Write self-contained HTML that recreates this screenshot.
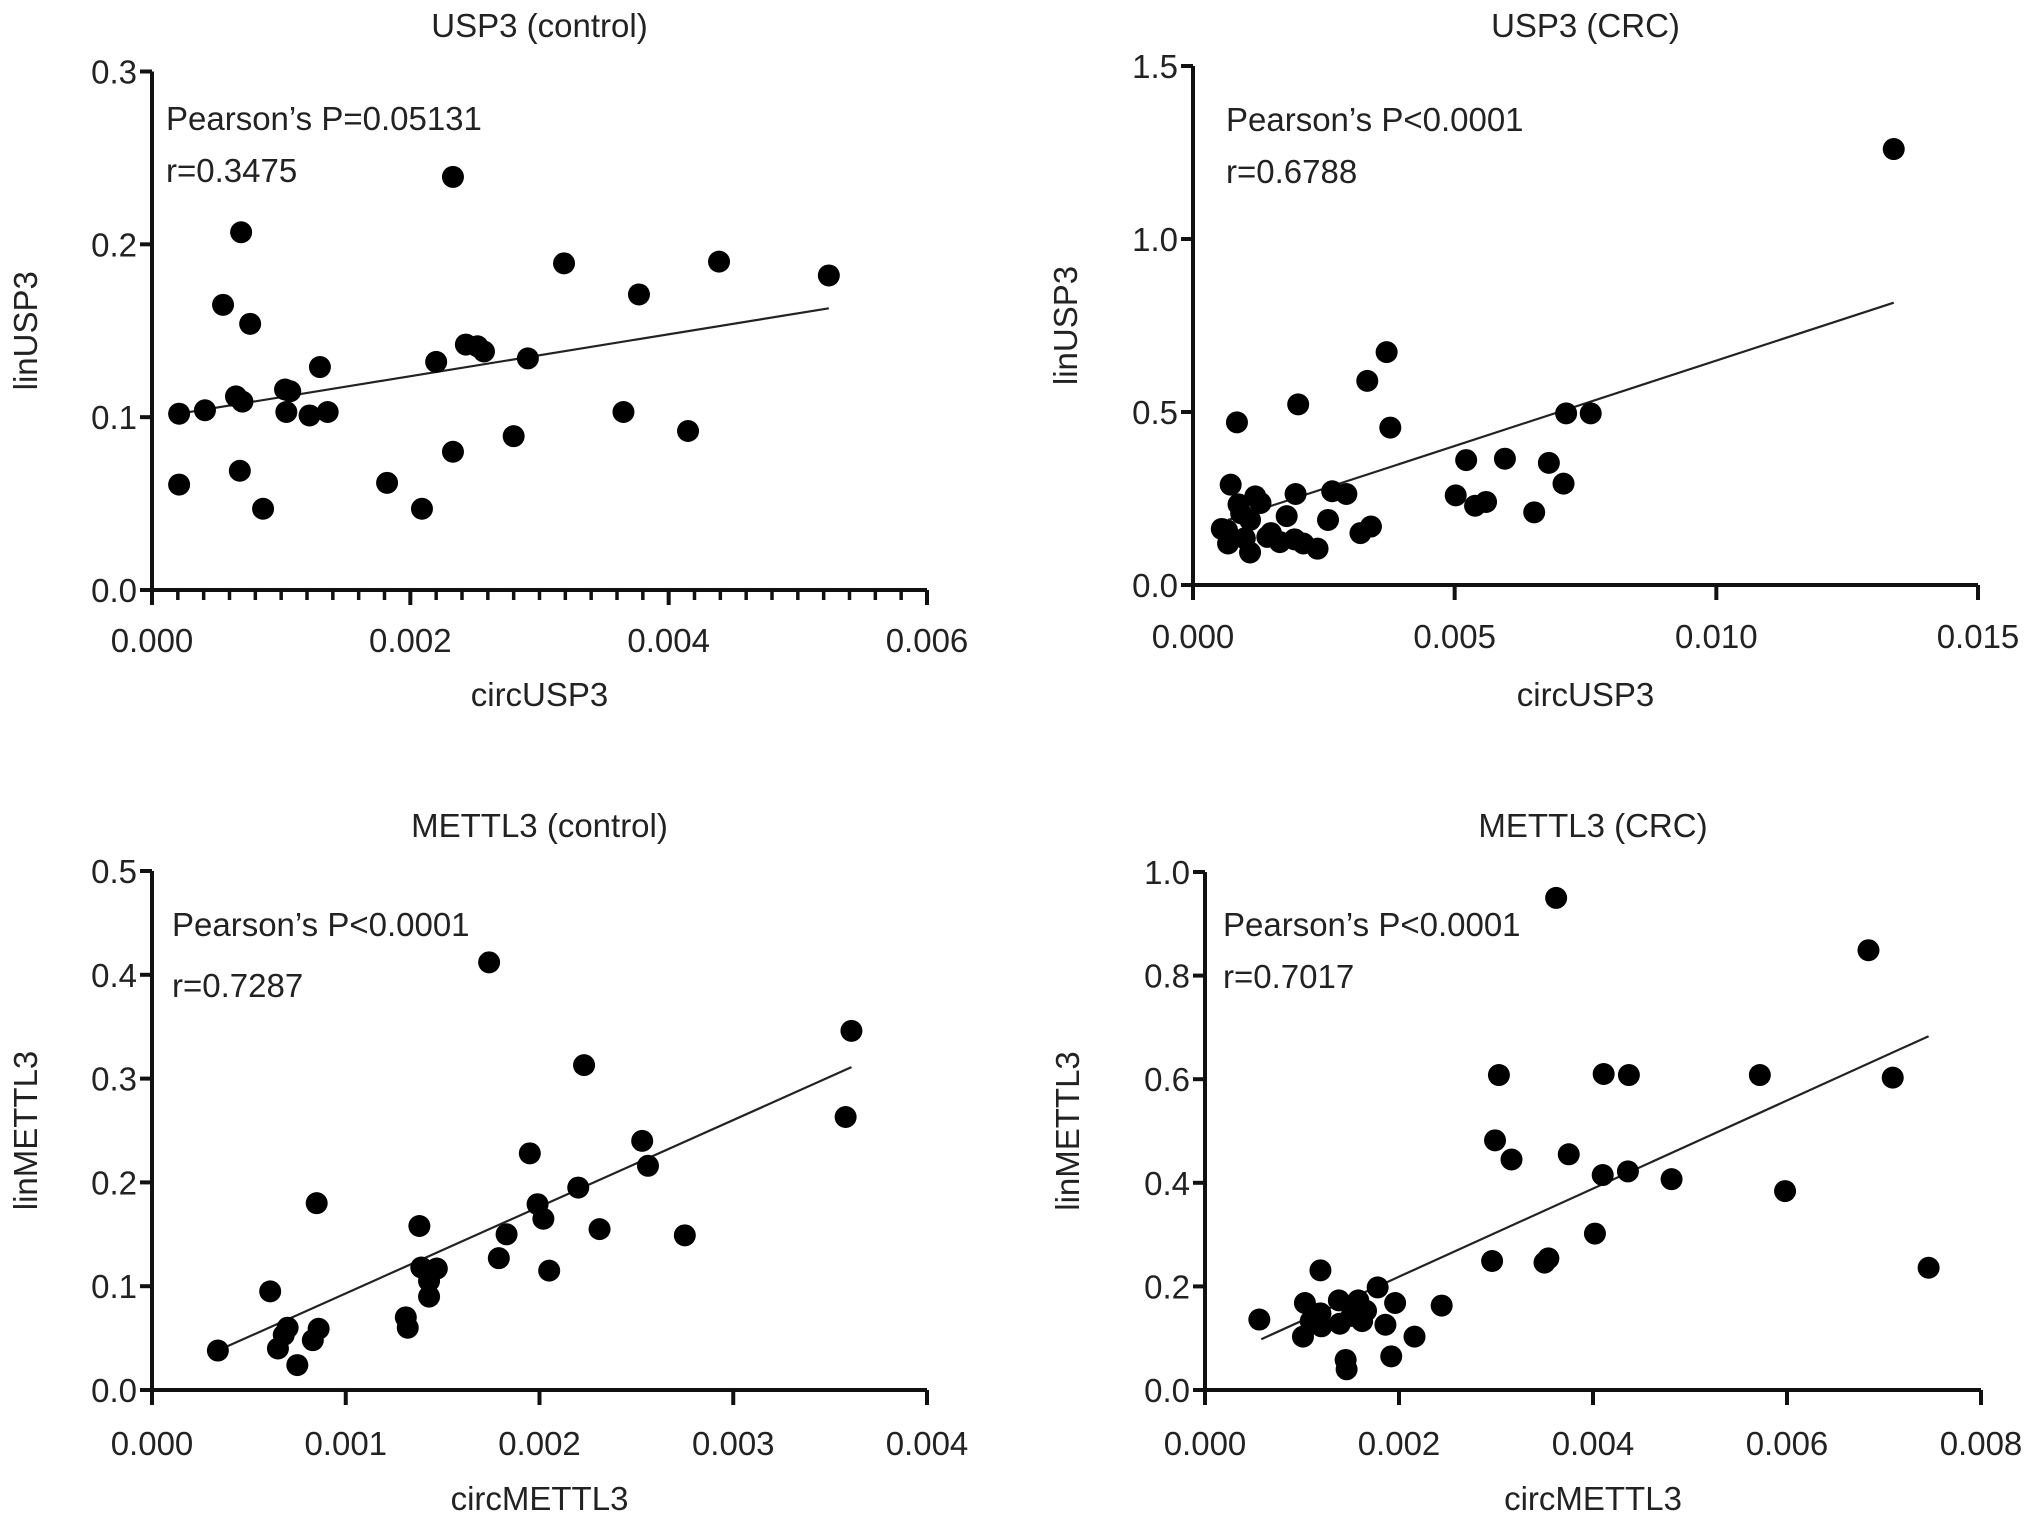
<!DOCTYPE html>
<html><head><meta charset="utf-8"><style>
html,body{margin:0;padding:0;background:#fff;}
svg{display:block;font-family:"Liberation Sans",Arial,sans-serif;}
</style></head><body>
<svg id="chart" width="2031" height="1520" viewBox="0 0 2031 1520"></svg>
<script>
// Panel A: USP3 control
const aX=[0.00021,0.00021,0.00041,0.00055,0.00069,0.00076,0.00065,0.0007,0.00068,0.00086,0.00103,0.00107,0.00104,0.00122,0.0013,0.00136,0.00182,0.00209,0.0022,0.00233,0.00233,0.00243,0.00252,0.00257,0.0028,0.00291,0.00319,0.00365,0.00377,0.00415,0.00439,0.00524];
const aY=[0.061,0.102,0.104,0.165,0.207,0.154,0.112,0.109,0.069,0.047,0.116,0.115,0.103,0.101,0.129,0.103,0.062,0.047,0.132,0.239,0.080,0.142,0.141,0.138,0.089,0.134,0.189,0.103,0.171,0.092,0.190,0.182];
const aFit=[[0.00021,0.102],[0.00524,0.163]];
const aXTicks=["0.000","0.002","0.004","0.006"];
const aYTicks=["0.0","0.1","0.2","0.3"];
// Panel B: USP3 CRC
const bX=[0.01339,0.0076,0.00713,0.00708,0.0068,0.00652,0.00596,0.0056,0.00539,0.00522,0.00502,0.00377,0.0037,0.00333,0.0034,0.0032,0.00293,0.00266,0.00258,0.00238,0.00201,0.00196,0.00194,0.00179,0.00166,0.00149,0.00129,0.00119,0.00109,0.00099,0.00092,0.00084,0.00087,0.00072,0.00065,0.00055,0.00067,0.00109,0.00142,0.00211];
const bY=[1.26,0.496,0.496,0.293,0.353,0.21,0.365,0.24,0.229,0.361,0.259,0.455,0.673,0.59,0.169,0.15,0.263,0.271,0.188,0.105,0.522,0.263,0.132,0.199,0.124,0.15,0.237,0.256,0.188,0.135,0.207,0.47,0.233,0.29,0.158,0.162,0.12,0.094,0.139,0.12];
const bFit=[[0.00067,0.188],[0.01339,0.816]];
const bXTicks=["0.000","0.005","0.010","0.015"];
const bYTicks=["0.0","0.5","1.0","1.5"];
// Panel C: METTL3 control
const cX=[0.00034,0.00061,0.00065,0.00068,0.0007,0.00075,0.00083,0.00086,0.00085,0.00131,0.00132,0.00138,0.00139,0.00143,0.00143,0.00147,0.00174,0.00179,0.00183,0.00195,0.00199,0.00202,0.00205,0.0022,0.00223,0.00231,0.00253,0.00256,0.00275,0.00358,0.00361];
const cY=[0.038,0.095,0.04,0.053,0.06,0.024,0.048,0.059,0.18,0.07,0.06,0.158,0.118,0.105,0.09,0.117,0.412,0.127,0.15,0.228,0.179,0.165,0.115,0.195,0.313,0.155,0.24,0.216,0.149,0.263,0.346];
const cFit=[[0.00034,0.038],[0.00361,0.311]];
const cXTicks=["0.000","0.001","0.002","0.003","0.004"];
const cYTicks=["0.0","0.1","0.2","0.3","0.4","0.5"];
// Panel D: METTL3 CRC
const dX=[0.00056,0.00119,0.00101,0.00103,0.00109,0.00119,0.0012,0.00138,0.00145,0.00146,0.00139,0.00158,0.00162,0.00151,0.00166,0.00178,0.00186,0.00192,0.00196,0.00216,0.00244,0.00296,0.00299,0.00303,0.00316,0.0035,0.00354,0.00362,0.00375,0.00402,0.0041,0.00411,0.00436,0.00437,0.00481,0.00572,0.00598,0.00684,0.00709,0.00746];
const dY=[0.136,0.231,0.103,0.168,0.133,0.148,0.123,0.173,0.058,0.04,0.128,0.173,0.133,0.143,0.153,0.198,0.126,0.065,0.168,0.103,0.163,0.249,0.482,0.608,0.445,0.246,0.254,0.95,0.455,0.302,0.415,0.61,0.422,0.608,0.407,0.608,0.384,0.849,0.603,0.236];
const dFit=[[0.00058,0.098],[0.00746,0.683]];
const dXTicks=["0.000","0.002","0.004","0.006","0.008"];
const dYTicks=["0.0","0.2","0.4","0.6","0.8","1.0"];

const NS="http://www.w3.org/2000/svg";
const svg=document.getElementById('chart');
function mk(tag,attrs,parent){const e=document.createElementNS(NS,tag);for(const k in attrs)e.setAttribute(k,attrs[k]);(parent||svg).appendChild(e);return e;}
function txt(s,attrs,parent){const e=mk('text',attrs,parent);e.textContent=s;return e;}

const panels=[
 {key:'usp3-control',X:aX,Y:aY,fit:aFit,xt:aXTicks,yt:aYTicks,L:152,R:927,T:71.5,B:590,title:'USP3 (control)',xl:'circUSP3',yl:'linUSP3',p:"Pearson’s P=0.05131",r:'r=0.3475',minor:30,tx:166,ty1:130,ty2:182,ylx:26,tly:26,xly:706,xtly:652},
 {key:'usp3-crc',X:bX,Y:bY,fit:bFit,xt:bXTicks,yt:bYTicks,L:1193,R:1978,T:66,B:585,title:'USP3 (CRC)',xl:'circUSP3',yl:'linUSP3',p:"Pearson’s P<0.0001",r:'r=0.6788',minor:0,tx:1226,ty1:131,ty2:183,ylx:1066,tly:26,xly:706,xtly:648},
 {key:'mettl3-control',X:cX,Y:cY,fit:cFit,xt:cXTicks,yt:cYTicks,L:152,R:927,T:871,B:1390,title:'METTL3 (control)',xl:'circMETTL3',yl:'linMETTL3',p:"Pearson’s P<0.0001",r:'r=0.7287',minor:0,tx:172,ty1:936,ty2:997,ylx:26,tly:826,xly:1510,xtly:1455},
 {key:'mettl3-crc',X:dX,Y:dY,fit:dFit,xt:dXTicks,yt:dYTicks,L:1205,R:1981,T:872,B:1390,title:'METTL3 (CRC)',xl:'circMETTL3',yl:'linMETTL3',p:"Pearson’s P<0.0001",r:'r=0.7017',minor:0,tx:1223,ty1:936,ty2:988,ylx:1068,tly:826,xly:1510,xtly:1455}
];

panels.forEach(p=>{
  const g=mk('g',{});
  
  
  const xmax=parseFloat(p.xt[p.xt.length-1]), ymax=parseFloat(p.yt[p.yt.length-1]);
  const sx=v=>p.L+(v/xmax)*(p.R-p.L);
  const sy=v=>p.B-(v/ymax)*(p.B-p.T);
  const t=txt(p.title,{x:(p.L+p.R)/2,y:p.tly+11,'text-anchor':'middle','font-size':33,fill:'#222'},g);
  
  
  const ya=mk('line',{x1:p.L,y1:p.T,x2:p.L,y2:p.B+14,stroke:'#111','stroke-width':4},g);
  
  
  const xa=mk('line',{x1:p.L-12,y1:p.B,x2:p.R,y2:p.B,stroke:'#111','stroke-width':4},g);
  
  
  p.yt.forEach(s=>{
    const v=parseFloat(s),y=sy(v);
    mk('line',{x1:p.L-12,y1:y,x2:p.L,y2:y,stroke:'#111','stroke-width':4},g);
    const e=txt(s,{x:p.L-15,y:y+12,'text-anchor':'end','font-size':33,fill:'#222'},g);
    
    
  });
  p.xt.forEach(s=>{
    const v=parseFloat(s),x=sx(v);
    mk('line',{x1:x,y1:p.B,x2:x,y2:p.B+15,stroke:'#111','stroke-width':4},g);
    const e=txt(s,{x:x,y:p.xtly,'text-anchor':'middle','font-size':33,fill:'#222'},g);
    
    
  });
  for(let i=1;i<p.minor;i++){
    const x=p.L+i*(p.R-p.L)/p.minor;
    mk('line',{x1:x,y1:p.B,x2:x,y2:p.B+10,stroke:'#111','stroke-width':3.5},g);
  }
  const xl=txt(p.xl,{x:(p.L+p.R)/2,y:p.xly,'text-anchor':'middle','font-size':33,fill:'#222'},g);
  
  
  const cy=(p.T+p.B)/2;
  const yl=txt(p.yl,{x:0,y:0,'text-anchor':'middle','font-size':33,fill:'#222',transform:`translate(${p.ylx+11},${cy}) rotate(-90)`},g);
  
  
  const a1=txt(p.p,{x:p.tx,y:p.ty1,'font-size':33,fill:'#222'},g);
  
  
  const a2=txt(p.r,{x:p.tx,y:p.ty2,'font-size':33,fill:'#222'},g);
  
  
  const fl=mk('line',{x1:sx(p.fit[0][0]),y1:sy(p.fit[0][1]),x2:sx(p.fit[1][0]),y2:sy(p.fit[1][1]),stroke:'#222','stroke-width':2.2},g);
  
  
  p.X.forEach((xv,i)=>{
    const c=mk('circle',{cx:sx(xv),cy:sy(p.Y[i]),r:11,fill:'#000'},g);
    
    
  });
});
</script>
</body></html>
